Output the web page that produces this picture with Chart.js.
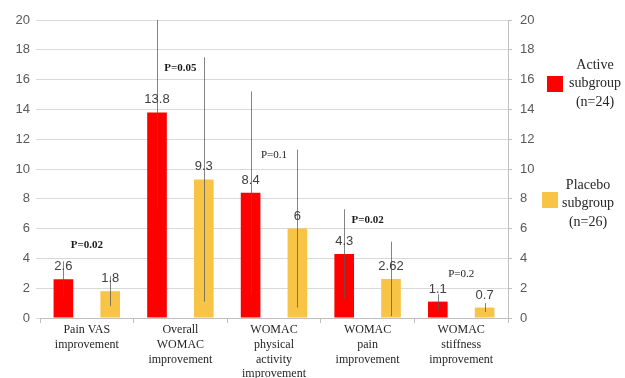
<!DOCTYPE html>
<html>
<head>
<meta charset="utf-8">
<script src="https://cdn.jsdelivr.net/npm/chart.js@4"></script>
<style>
  html, body { margin: 0; padding: 0; background: #ffffff; }
  #wrap { width: 625px; height: 378px; position: relative; }
</style>
</head>
<body>
<div id="wrap"><canvas id="c" width="625" height="378"></canvas></div>
<script>
const categories = [
  ["Pain VAS", "improvement"],
  ["Overall", "WOMAC", "improvement"],
  ["WOMAC", "physical", "activity", "improvement"],
  ["WOMAC", "pain", "improvement"],
  ["WOMAC", "stiffness", "improvement"]
];
const activeValues = [2.6, 13.8, 8.4, 4.3, 1.1];
const activeLabels = ["2.6", "13.8", "8.4", "4.3", "1.1"];
const activeErrors = [1.2, 6.5, 6.8, 3.0, 0.5];
const placeboValues = [1.8, 9.3, 6, 2.62, 0.7];
const placeboLabels = ["1.8", "9.3", "6", "2.62", "0.7"];
const placeboErrors = [1.0, 8.2, 5.3, 2.5, 0.3];
const pTexts = ["P=0.02", "P=0.05", "P=0.1", "P=0.02", "P=0.2"];
const pBold = [true, true, false, true, false];
const pLevels = [4.9, 16.8, 10.9, 6.6, 2.95];
const yTicks = [0, 2, 4, 6, 8, 10, 12, 14, 16, 18, 20];
const legendNames = [["Active", "subgroup", "(n=24)"], ["Placebo", "subgroup", "(n=26)"]];

const RED = "#ff0000";
const GOLD = "#f8c446";

const overlay = {
  id: "overlay",
  afterDatasetsDraw(chart) {
    const ctx = chart.ctx;
    const y = chart.scales.y;
    const x = chart.scales.x;
    const top = chart.chartArea.top;
    const errs = [activeErrors, placeboErrors];
    const labs = [activeLabels, placeboLabels];
    ctx.save();
    // error bars
    chart.data.datasets.forEach((ds, di) => {
      const meta = chart.getDatasetMeta(di);
      meta.data.forEach((bar, i) => {
        const v = ds.data[i];
        const e = errs[di][i];
        const yHi = Math.max(y.getPixelForValue(v + e), top);
        const yLo = y.getPixelForValue(Math.max(v - e, 0));
        ctx.strokeStyle = "rgba(90,90,90,0.75)";
        ctx.lineWidth = 1;
        ctx.beginPath();
        ctx.moveTo(Math.round(bar.x) + 0.5, yHi);
        ctx.lineTo(Math.round(bar.x) + 0.5, yLo);
        ctx.stroke();
      });
    });
    // value labels
    ctx.font = "13px 'Liberation Sans', Arial, sans-serif";
    ctx.fillStyle = "#404040";
    ctx.textAlign = "center";
    ctx.textBaseline = "alphabetic";
    chart.data.datasets.forEach((ds, di) => {
      const meta = chart.getDatasetMeta(di);
      meta.data.forEach((bar, i) => {
        ctx.fillText(labs[di][i], bar.x, bar.y - 9);
      });
    });
    // p-values
    ctx.fillStyle = "#1a1a1a";
    ctx.textBaseline = "middle";
    pTexts.forEach((t, i) => {
      ctx.font = (pBold[i] ? "bold " : "") + "11px 'Liberation Serif', 'Times New Roman', serif";
      ctx.fillText(t, x.getPixelForValue(i), y.getPixelForValue(pLevels[i]));
    });
    ctx.restore();
  },
  afterDraw(chart) {
    const ctx = chart.ctx;
    const right = chart.width;
    ctx.save();
    const boxes = [
      { color: RED, bx: 547, by: 76, tx: 595, ty: 65 },
      { color: GOLD, bx: 542, by: 192, tx: 588, ty: 185 }
    ];
    ctx.font = "14px 'Liberation Serif', 'Times New Roman', serif";
    ctx.textAlign = "center";
    ctx.textBaseline = "middle";
    boxes.forEach((b, k) => {
      ctx.fillStyle = b.color;
      ctx.fillRect(b.bx, b.by, 16, 16);
      ctx.fillStyle = "#262626";
      legendNames[k].forEach((line, j) => {
        ctx.fillText(line, b.tx, b.ty + j * 18.5);
      });
    });
    ctx.restore();
  }
};

new Chart(document.getElementById("c"), {
  type: "bar",
  data: {
    labels: categories,
    datasets: [
      { label: "Active subgroup (n=24)", data: activeValues, backgroundColor: RED, borderWidth: 0,
        categoryPercentage: 1.0, barPercentage: 0.42 },
      { label: "Placebo subgroup (n=26)", data: placeboValues, backgroundColor: GOLD, borderWidth: 0,
        categoryPercentage: 1.0, barPercentage: 0.42 }
    ]
  },
  options: {
    responsive: false,
    animation: false,
    devicePixelRatio: 1,
    layout: { padding: { top: 20, right: 87, bottom: 0, left: 0 } },
    plugins: { legend: { display: false }, tooltip: { enabled: false } },
    scales: {
      x: {
        offset: true,
        grid: { display: true, offset: true, drawOnChartArea: false, drawTicks: true, tickLength: 5, color: "#bfbfbf" },
        border: { display: true, color: "#bfbfbf" },
        ticks: { color: "#262626", padding: 0, maxRotation: 0, autoSkip: false,
          font: { family: "'Liberation Serif', 'Times New Roman', serif", size: 12, lineHeight: 1.22 } },
        afterFit(s) { s.height = 60; }
      },
      y: {
        position: "left",
        min: 0, max: 20,
        afterBuildTicks(s) { s.ticks = yTicks.map(v => ({ value: v })); },
        grid: { color: "#d9d9d9", tickLength: 4 },
        border: { display: false },
        ticks: { color: "#595959", padding: 6, font: { family: "'Liberation Sans', Arial, sans-serif", size: 13 } },
        afterFit(s) { s.width = 40; }
      },
      y2: {
        position: "right",
        min: 0, max: 20,
        afterBuildTicks(s) { s.ticks = yTicks.map(v => ({ value: v })); },
        grid: { drawOnChartArea: false, color: "#bfbfbf", tickLength: 4 },
        border: { display: true, color: "#bfbfbf" },
        ticks: { color: "#595959", padding: 8, font: { family: "'Liberation Sans', Arial, sans-serif", size: 13 } },
        afterFit(s) { s.width = 30; }
      }
    }
  },
  plugins: [overlay]
});
</script>
</body>
</html>
